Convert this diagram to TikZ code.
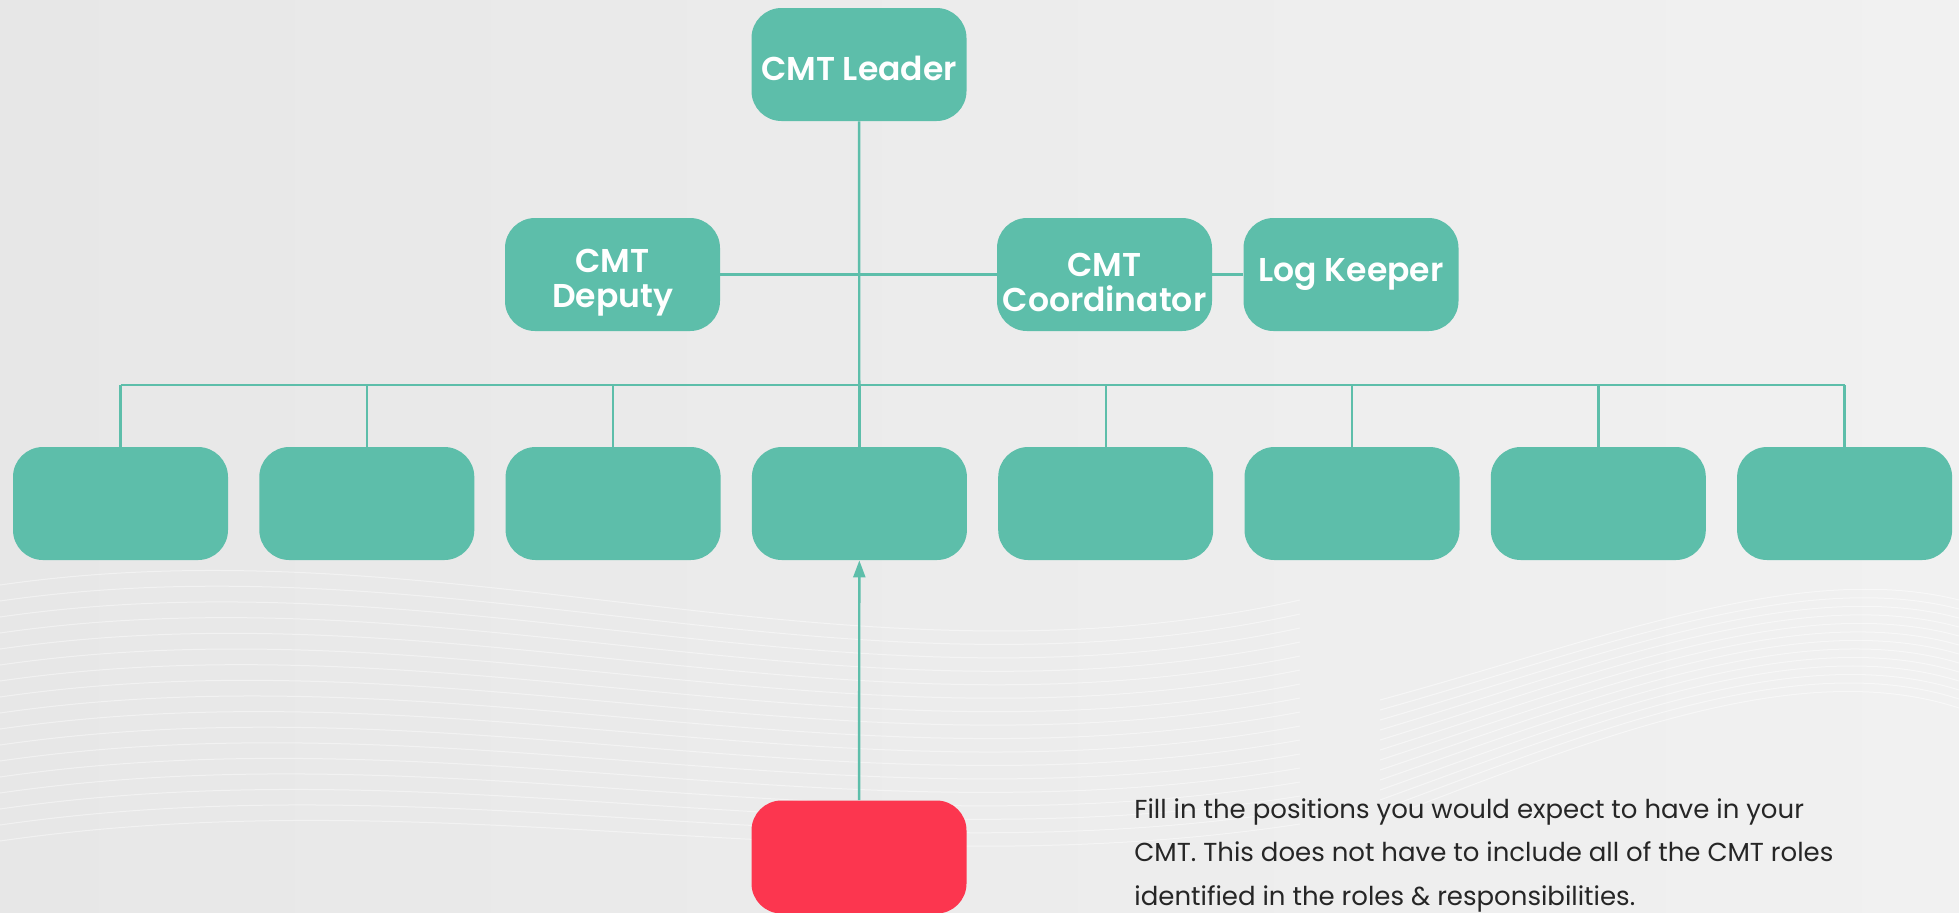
\documentclass[tikz,border=0pt]{standalone}
\usepackage{fontspec}
\setmainfont{Poppins}[BoldFont={Poppins SemiBold}]
\usetikzlibrary{arrows.meta}
\definecolor{cmtteal}{HTML}{5DBEAA}
\definecolor{cmtred}{HTML}{FC364F}
\definecolor{bgleft}{HTML}{E7E7E7}
\definecolor{bgright}{HTML}{F1F1F1}
\newcommand{\lowered}[2]{\raisebox{-#1}[\height][\depth]{#2}}
\tikzset{
  rolebox/.style={fill=cmtteal, rounded corners=15pt, minimum width=107.5pt,
    minimum height=56.5pt, inner sep=0pt, text=white, align=center,
    font=\bfseries\fontsize{16.5}{17.5}\selectfont},
  link/.style={draw=cmtteal, line width=1.2pt},
}

\begin{document}
\begin{tikzpicture}[x=0.5pt,y=-0.5pt]
	\fill[left color=bgleft, right color=bgright] (0,0) rectangle (1959,912);
	\useasboundingbox (0,0) rectangle (1959,912);
	% faint waves in the back
	\foreach \i in {0,...,16}
		\draw[white, opacity=0.45, line width=0.5pt] (0,585+\i*16) .. controls (450,520+\i*16) and (850,700+\i*12) .. (1300,600+\i*14);
	\foreach \i in {0,...,12}
		\draw[white, opacity=0.5, line width=0.5pt] (1380,700+\i*10) .. controls (1600,640+\i*8) and (1800,560+\i*8) .. (1959,600+\i*9);
	% top of the chart
	\node[rolebox] (leader) at (859,64.5) {\lowered{2pt}{CMT Leader}};
	\node[rolebox] (deputy) at (612.5,274.5) {\lowered{4pt}{CMT}\\\lowered{4pt}{Deputy}};
	\node[rolebox] (coord) at (1104.5,274.5) {\lowered{4pt}{CMT}\\\lowered{4pt}{Coordinator}};
	\node[rolebox] (keeper) at (1351,274.5) {Log Keeper};
	% empty positions
	\foreach \k in {1,...,8}
		\node[rolebox] (pos\k) at ({120.5+246.3*(\k-1)},503.5) {};
	\node[rolebox, fill=cmtred] (mine) at (859,857) {};
	\coordinate (bus) at (0,385);
	\draw[link] (leader) -- (pos4);
	\draw[link] (deputy) -- (coord);
	\draw[link] (coord) -- (keeper);
	\draw[link] (pos1 |- bus) -- (pos8 |- bus);
	\foreach \k in {1,...,8}
		\draw[link] (pos\k.north) -- (pos\k |- bus);
	\draw[link, -{Triangle[width=6pt,length=8.5pt]}] (mine) -- (pos4);
	\node[anchor=north west, inner sep=0pt, align=left, text=black!85,
		font=\fontsize{13}{21.75}\selectfont] (note) at (1134,798)
		{Fill in the positions you would expect to have in your\\
		 CMT. This does not have to include all of the CMT roles\\
		 identified in the roles \& responsibilities.};
\end{tikzpicture}
\end{document}
